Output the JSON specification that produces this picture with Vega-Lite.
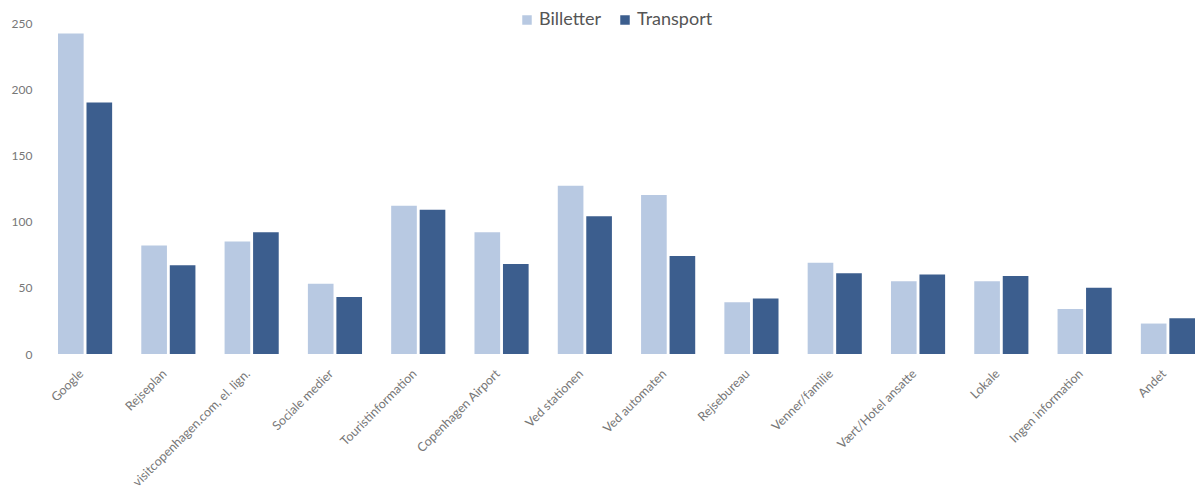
{
  "$schema": "https://vega.github.io/schema/vega-lite/v6.json",
  "autosize": {"type": "none"},
  "padding": {"left": 40, "top": 23, "right": 0, "bottom": 134},
  "width": 1155,
  "height": 331,
  "background": "white",
  "config": {
    "view": {"stroke": null},
    "font": "Lato"
  },
  "data": {
    "values": [
      {"kilde": "Google", "serie": "Billetter", "antal": 242},
      {"kilde": "Google", "serie": "Transport", "antal": 190},
      {"kilde": "Rejseplan", "serie": "Billetter", "antal": 82},
      {"kilde": "Rejseplan", "serie": "Transport", "antal": 67},
      {"kilde": "visitcopenhagen.com, el. lign.", "serie": "Billetter", "antal": 85},
      {"kilde": "visitcopenhagen.com, el. lign.", "serie": "Transport", "antal": 92},
      {"kilde": "Sociale medier", "serie": "Billetter", "antal": 53},
      {"kilde": "Sociale medier", "serie": "Transport", "antal": 43},
      {"kilde": "Touristinformation", "serie": "Billetter", "antal": 112},
      {"kilde": "Touristinformation", "serie": "Transport", "antal": 109},
      {"kilde": "Copenhagen Airport", "serie": "Billetter", "antal": 92},
      {"kilde": "Copenhagen Airport", "serie": "Transport", "antal": 68},
      {"kilde": "Ved stationen", "serie": "Billetter", "antal": 127},
      {"kilde": "Ved stationen", "serie": "Transport", "antal": 104},
      {"kilde": "Ved automaten", "serie": "Billetter", "antal": 120},
      {"kilde": "Ved automaten", "serie": "Transport", "antal": 74},
      {"kilde": "Rejsebureau", "serie": "Billetter", "antal": 39},
      {"kilde": "Rejsebureau", "serie": "Transport", "antal": 42},
      {"kilde": "Venner/familie", "serie": "Billetter", "antal": 69},
      {"kilde": "Venner/familie", "serie": "Transport", "antal": 61},
      {"kilde": "Vært/Hotel ansatte", "serie": "Billetter", "antal": 55},
      {"kilde": "Vært/Hotel ansatte", "serie": "Transport", "antal": 60},
      {"kilde": "Lokale", "serie": "Billetter", "antal": 55},
      {"kilde": "Lokale", "serie": "Transport", "antal": 59},
      {"kilde": "Ingen information", "serie": "Billetter", "antal": 34},
      {"kilde": "Ingen information", "serie": "Transport", "antal": 50},
      {"kilde": "Andet", "serie": "Billetter", "antal": 23},
      {"kilde": "Andet", "serie": "Transport", "antal": 27}
    ]
  },
  "mark": {"type": "bar"},
  "encoding": {
    "x": {
      "field": "kilde",
      "type": "nominal",
      "sort": null,
      "scale": {"paddingInner": 0.35, "paddingOuter": 0.108, "align": 1},
      "axis": {
        "title": null,
        "labelAngle": -45,
        "labelFontSize": 12.5,
        "labelColor": "#777777",
        "domain": false,
        "ticks": false,
        "labelPadding": 13,
        "labelOffset": -8,
        "labelLimit": 300
      }
    },
    "xOffset": {
      "field": "serie",
      "type": "nominal",
      "scale": {"paddingInner": 0.1}
    },
    "y": {
      "field": "antal",
      "type": "quantitative",
      "scale": {"domain": [0, 250], "nice": false},
      "axis": {
        "title": null,
        "values": [0, 50, 100, 150, 200, 250],
        "grid": false,
        "domain": false,
        "ticks": false,
        "labelFontSize": 12,
        "labelColor": "#777777",
        "labelPadding": 8
      }
    },
    "color": {
      "field": "serie",
      "type": "nominal",
      "scale": {"domain": ["Billetter", "Transport"], "range": ["#b8c9e2", "#3c5e8e"]},
      "legend": {
        "title": null,
        "orient": "none",
        "direction": "horizontal",
        "legendX": 478,
        "legendY": -12,
        "symbolType": "square",
        "symbolSize": 90,
        "symbolStrokeWidth": 0,
        "labelFontSize": 18,
        "labelColor": "#555555",
        "labelOffset": 3,
        "columnPadding": 14
      }
    }
  }
}
